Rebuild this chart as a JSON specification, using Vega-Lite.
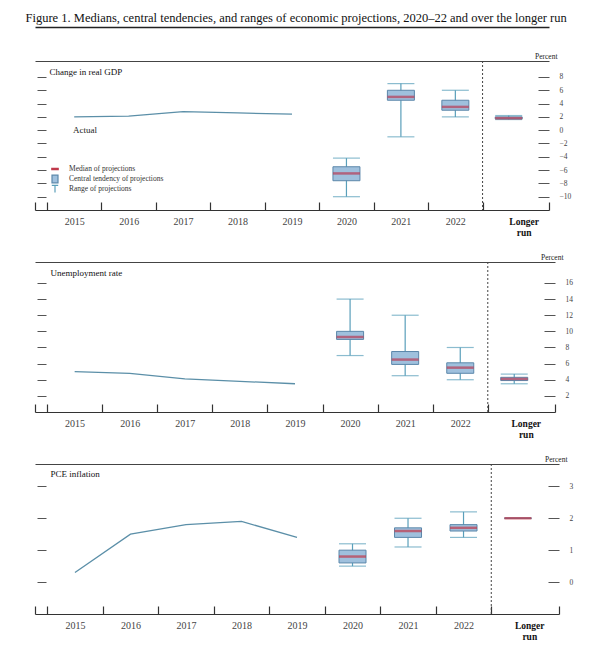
{
  "$schema": "https://vega.github.io/schema/vega-lite/v6.json",
  "background": "white",
  "padding": {"left": 25, "top": 11, "right": 5, "bottom": 5},
  "spacing": 16,
  "config": {
    "view": {"stroke": null},
    "font": "Liberation Serif",
    "axis": {"grid": false, "labelFont": "Liberation Serif", "titleFont": "Liberation Serif"},
    "legend": {"labelFont": "Liberation Serif"},
    "text": {"font": "Liberation Serif"}
  },
  "resolve": {"scale": {"fill": "independent", "stroke": "independent", "shape": "independent"}},
  "datasets": {
    "gdp_actual": [
      {"period": "2015", "pos": 2015.5, "value": 2.0},
      {"period": "2016", "pos": 2016.5, "value": 2.1},
      {"period": "2017", "pos": 2017.5, "value": 2.8},
      {"period": "2018", "pos": 2018.5, "value": 2.6},
      {"period": "2019", "pos": 2019.5, "value": 2.4}
    ],
    "gdp_proj": [
      {"period": "2020", "pos": 2020.5, "low": -10.0, "high": -4.2, "ctlow": -7.6, "cthigh": -5.5, "median": -6.5},
      {"period": "2021", "pos": 2021.5, "low": -1.0, "high": 7.0, "ctlow": 4.5, "cthigh": 6.0, "median": 5.0},
      {"period": "2022", "pos": 2022.5, "low": 2.0, "high": 6.0, "ctlow": 3.0, "cthigh": 4.5, "median": 3.5},
      {"period": "Longer run", "pos": 2023.48, "low": 1.6, "high": 2.2, "ctlow": 1.7, "cthigh": 2.0, "median": 1.8}
    ],
    "gdp_note": [{"pos": 2015.48, "value": 0, "label": "Actual"}],
    "ur_actual": [
      {"period": "2015", "pos": 2015.5, "value": 5.0},
      {"period": "2016", "pos": 2016.5, "value": 4.8},
      {"period": "2017", "pos": 2017.5, "value": 4.1},
      {"period": "2018", "pos": 2018.5, "value": 3.8},
      {"period": "2019", "pos": 2019.5, "value": 3.5}
    ],
    "ur_proj": [
      {"period": "2020", "pos": 2020.5, "low": 7.0, "high": 14.0, "ctlow": 9.0, "cthigh": 10.0, "median": 9.3},
      {"period": "2021", "pos": 2021.5, "low": 4.5, "high": 12.0, "ctlow": 5.9, "cthigh": 7.5, "median": 6.5},
      {"period": "2022", "pos": 2022.5, "low": 4.0, "high": 8.0, "ctlow": 4.8, "cthigh": 6.1, "median": 5.5},
      {"period": "Longer run", "pos": 2023.48, "low": 3.5, "high": 4.7, "ctlow": 3.9, "cthigh": 4.3, "median": 4.1}
    ],
    "pce_actual": [
      {"period": "2015", "pos": 2015.5, "value": 0.3},
      {"period": "2016", "pos": 2016.5, "value": 1.5},
      {"period": "2017", "pos": 2017.5, "value": 1.8},
      {"period": "2018", "pos": 2018.5, "value": 1.9},
      {"period": "2019", "pos": 2019.5, "value": 1.4}
    ],
    "pce_proj": [
      {"period": "2020", "pos": 2020.5, "low": 0.5, "high": 1.2, "ctlow": 0.6, "cthigh": 1.0, "median": 0.8},
      {"period": "2021", "pos": 2021.5, "low": 1.1, "high": 2.0, "ctlow": 1.4, "cthigh": 1.7, "median": 1.6},
      {"period": "2022", "pos": 2022.5, "low": 1.4, "high": 2.2, "ctlow": 1.6, "cthigh": 1.8, "median": 1.7},
      {"period": "Longer run", "pos": 2023.48, "low": 2.0, "high": 2.0, "ctlow": 2.0, "cthigh": 2.0, "median": 2.0}
    ],
    "divider": [{"at": 2023}]
  },
  "vconcat": [
    {
      "width": 514,
      "height": 149,
      "resolve": {"axis": {"x": "independent", "y": "independent"}},
      "layer": [
        {
          "data": {"name": "gdp_actual"},
          "mark": {"type": "line", "color": "#5b8fa8", "strokeWidth": 1.3},
          "encoding": {
            "x": {"field": "pos", "type": "quantitative",
              "scale": {"domain": [2014.78, 2024.22], "nice": false, "zero": false, "padding": 0},
              "axis": {"orient": "bottom", "values": [2014.78, 2015, 2016, 2017, 2018, 2019, 2020, 2021, 2022, 2023, 2024.22],
                "domain": true, "domainColor": "#333", "domainWidth": 1.2,
                "ticks": true, "tickSize": -8, "tickColor": "#333", "tickWidth": 1.2,
                "labelPadding": 14,
                "labelOffset": {"condition": {"test": "datum.value == 2023", "value": 41}, "value": 27.2},
                "labelExpr": "datum.value == 2023 ? ['Longer','run'] : (datum.value >= 2015 && datum.value <= 2022 ? '' + datum.value : '')",
                "labelFontWeight": {"condition": {"test": "datum.value == 2023", "value": "bold"}, "value": "normal"},
                "labelFontSize": {"condition": {"test": "datum.value == 2023", "value": 9.5}, "value": 10},
                "labelColor": {"condition": {"test": "datum.value == 2023", "value": "#111"}, "value": "#444"},
                "labelOverlap": false, "labelBound": false, "labelFlush": false,
                "labelAlign": "center", "labelBaseline": "top", "labelLineHeight": 11,
                "title": null, "grid": false}},
            "y": {"field": "value", "type": "quantitative",
              "scale": {"domain": [-12, 10.4], "nice": false, "zero": false, "padding": 0},
              "axis": {"orient": "left", "values": [8, 6, 4, 2, 0, -2, -4, -6, -8, -10],
                "domain": false, "labels": false, "ticks": true, "tickSize": -9, "offset": -2,
                "tickColor": "#555", "tickWidth": 1,
                "title": "Change in real GDP", "titleAngle": 0, "titleAlign": "left", "titleBaseline": "alphabetic",
                "titleX": 12, "titleY": 13, "titleFontSize": 9, "titleFontWeight": "normal", "titleColor": "#111", "grid": false}}
          }
        },
        {
          "data": {"name": "gdp_proj"},
          "encoding": {
            "x": {"field": "pos", "type": "quantitative",
              "scale": {"domain": [2014.78, 2024.22], "nice": false, "zero": false, "padding": 0},
              "axis": {"orient": "top", "domain": true, "domainColor": "#444", "domainWidth": 1.2, "ticks": false, "labels": false, "title": null, "grid": false}}
          },
          "layer": [
            {
              "mark": {"type": "rule", "color": "#5a9fba", "strokeWidth": 1.2},
              "encoding": {
                "y": {"field": "low", "type": "quantitative",
                  "scale": {"domain": [-12, 10.4], "nice": false, "zero": false, "padding": 0},
                  "axis": {"orient": "right", "values": [8, 6, 4, 2, 0, -2, -4, -6, -8, -10], "domain": false, "ticks": true, "tickSize": -11, "tickColor": "#555", "tickWidth": 1, "labelPadding": 21, "labelFontSize": 7.5, "labelColor": "#444", "labelOverlap": false, "labelBound": false, "labelFlush": false, "title": "Percent", "titleAngle": 0, "titleAlign": "right", "titleBaseline": "alphabetic", "titleX": 8, "titleY": -3, "titleFontSize": 7.5, "titleFontWeight": "normal", "titleColor": "#222", "grid": false}},
                "y2": {"field": "high"}
              }
            },
            {
              "mark": {"type": "tick", "orient": "horizontal", "size": 27, "thickness": 1.2, "color": "#5a9fba"},
              "encoding": {
                "y": {"field": "low", "type": "quantitative",
                  "scale": {"domain": [-12, 10.4], "nice": false, "zero": false, "padding": 0},
                  "axis": {"orient": "right", "values": [8, 6, 4, 2, 0, -2, -4, -6, -8, -10], "domain": false, "ticks": true, "tickSize": -11, "tickColor": "#555", "tickWidth": 1, "labelPadding": 21, "labelFontSize": 7.5, "labelColor": "#444", "labelOverlap": false, "labelBound": false, "labelFlush": false, "title": "Percent", "titleAngle": 0, "titleAlign": "right", "titleBaseline": "alphabetic", "titleX": 8, "titleY": -3, "titleFontSize": 7.5, "titleFontWeight": "normal", "titleColor": "#222", "grid": false}}
              }
            },
            {
              "mark": {"type": "tick", "orient": "horizontal", "size": 27, "thickness": 1.2, "color": "#5a9fba"},
              "encoding": {
                "y": {"field": "high", "type": "quantitative",
                  "scale": {"domain": [-12, 10.4], "nice": false, "zero": false, "padding": 0},
                  "axis": {"orient": "right", "values": [8, 6, 4, 2, 0, -2, -4, -6, -8, -10], "domain": false, "ticks": true, "tickSize": -11, "tickColor": "#555", "tickWidth": 1, "labelPadding": 21, "labelFontSize": 7.5, "labelColor": "#444", "labelOverlap": false, "labelBound": false, "labelFlush": false, "title": "Percent", "titleAngle": 0, "titleAlign": "right", "titleBaseline": "alphabetic", "titleX": 8, "titleY": -3, "titleFontSize": 7.5, "titleFontWeight": "normal", "titleColor": "#222", "grid": false}}
              }
            },
            {
              "mark": {"type": "bar", "width": 27, "fill": "#9fc0dd", "stroke": "#5b87aa", "strokeWidth": 1},
              "encoding": {
                "y": {"field": "ctlow", "type": "quantitative",
                  "scale": {"domain": [-12, 10.4], "nice": false, "zero": false, "padding": 0},
                  "axis": {"orient": "right", "values": [8, 6, 4, 2, 0, -2, -4, -6, -8, -10], "domain": false, "ticks": true, "tickSize": -11, "tickColor": "#555", "tickWidth": 1, "labelPadding": 21, "labelFontSize": 7.5, "labelColor": "#444", "labelOverlap": false, "labelBound": false, "labelFlush": false, "title": "Percent", "titleAngle": 0, "titleAlign": "right", "titleBaseline": "alphabetic", "titleX": 8, "titleY": -3, "titleFontSize": 7.5, "titleFontWeight": "normal", "titleColor": "#222", "grid": false}},
                "y2": {"field": "cthigh"}
              }
            },
            {
              "mark": {"type": "tick", "orient": "horizontal", "size": 27, "thickness": 2.5, "color": "#b83c55"},
              "encoding": {
                "y": {"field": "median", "type": "quantitative",
                  "scale": {"domain": [-12, 10.4], "nice": false, "zero": false, "padding": 0},
                  "axis": {"orient": "right", "values": [8, 6, 4, 2, 0, -2, -4, -6, -8, -10], "domain": false, "ticks": true, "tickSize": -11, "tickColor": "#555", "tickWidth": 1, "labelPadding": 21, "labelFontSize": 7.5, "labelColor": "#444", "labelOverlap": false, "labelBound": false, "labelFlush": false, "title": "Percent", "titleAngle": 0, "titleAlign": "right", "titleBaseline": "alphabetic", "titleX": 8, "titleY": -3, "titleFontSize": 7.5, "titleFontWeight": "normal", "titleColor": "#222", "grid": false}}
              }
            }
          ]
        },
        {
          "data": {"name": "gdp_note"},
          "mark": {"type": "text", "align": "left", "baseline": "middle", "fontSize": 9, "color": "#222"},
          "encoding": {
            "x": {"field": "pos", "type": "quantitative", "axis": null},
            "y": {"field": "value", "type": "quantitative", "axis": null},
            "text": {"field": "label"}
          }
        },
        {
          "data": {"values": []},
          "mark": {"type": "point", "filled": true, "opacity": 1},
          "encoding": {
            "shape": {"field": "comp", "type": "nominal",
              "scale": {"domain": ["Median of projections", "Central tendency of projections", "Range of projections"],
                "range": ["M-0.8,-0.18H0.8V0.18H-0.8Z", "M-0.75,-0.95H0.75V0.95H-0.75Z", "M-0.8,-0.9H0.8M0,-0.9V0.9"]},
              "legend": {"orient": "none", "legendX": 15, "legendY": 103, "title": null, "symbolSize": 64, "symbolStrokeWidth": 1.2,
                "labelFontSize": 7.5, "labelColor": "#333", "labelOffset": 9, "rowPadding": 0, "clipHeight": 10, "padding": 0, "labelLimit": 300}},
            "fill": {"field": "comp", "type": "nominal",
              "scale": {"domain": ["Median of projections", "Central tendency of projections", "Range of projections"],
                "range": ["#c0394b", "#9fc0dd", "transparent"]},
              "legend": {"orient": "none", "legendX": 15, "legendY": 103, "title": null, "symbolSize": 64, "symbolStrokeWidth": 1.2,
                "labelFontSize": 7.5, "labelColor": "#333", "labelOffset": 9, "rowPadding": 0, "clipHeight": 10, "padding": 0, "labelLimit": 300}},
            "stroke": {"field": "comp", "type": "nominal",
              "scale": {"domain": ["Median of projections", "Central tendency of projections", "Range of projections"],
                "range": ["#c0394b", "#5b87aa", "#5a9fba"]},
              "legend": {"orient": "none", "legendX": 15, "legendY": 103, "title": null, "symbolSize": 64, "symbolStrokeWidth": 1.2,
                "labelFontSize": 7.5, "labelColor": "#333", "labelOffset": 9, "rowPadding": 0, "clipHeight": 10, "padding": 0, "labelLimit": 300}}
          }
        },
        {
          "data": {"name": "divider"},
          "mark": {"type": "rule", "color": "#444", "strokeDash": [2, 2], "strokeWidth": 1},
          "encoding": {
            "x": {"field": "at", "type": "quantitative",
              "axis": {"orient": "top", "offset": 34, "domain": true, "domainColor": "#222", "domainWidth": 1.3,
                "ticks": false, "labels": false, "grid": false,
                "title": "Figure 1. Medians, central tendencies, and ranges of economic projections, 2020–22 and over the longer run",
                "titleX": -10, "titleY": -6, "titleAlign": "left", "titleBaseline": "alphabetic",
                "titleFontSize": 12.5, "titleFontWeight": "normal", "titleColor": "#111"}}
          }
        }
      ]
    },
    {
      "width": 520,
      "height": 150,
      "resolve": {"axis": {"x": "independent", "y": "independent"}},
      "layer": [
        {
          "data": {"name": "ur_actual"},
          "mark": {"type": "line", "color": "#5b8fa8", "strokeWidth": 1.3},
          "encoding": {
            "x": {"field": "pos", "type": "quantitative",
              "scale": {"domain": [2014.78, 2024.22], "nice": false, "zero": false, "padding": 0},
              "axis": {"orient": "bottom", "values": [2014.78, 2015, 2016, 2017, 2018, 2019, 2020, 2021, 2022, 2023, 2024.22],
                "domain": true, "domainColor": "#333", "domainWidth": 1.2,
                "ticks": true, "tickSize": -8, "tickColor": "#333", "tickWidth": 1.2,
                "labelPadding": 14,
                "labelOffset": {"condition": {"test": "datum.value == 2023", "value": 38}, "value": 27.5},
                "labelExpr": "datum.value == 2023 ? ['Longer','run'] : (datum.value >= 2015 && datum.value <= 2022 ? '' + datum.value : '')",
                "labelFontWeight": {"condition": {"test": "datum.value == 2023", "value": "bold"}, "value": "normal"},
                "labelFontSize": {"condition": {"test": "datum.value == 2023", "value": 9.5}, "value": 10},
                "labelColor": {"condition": {"test": "datum.value == 2023", "value": "#111"}, "value": "#444"},
                "labelOverlap": false, "labelBound": false, "labelFlush": false,
                "labelAlign": "center", "labelBaseline": "top", "labelLineHeight": 11,
                "title": null, "grid": false}},
            "y": {"field": "value", "type": "quantitative",
              "scale": {"domain": [0, 18.6], "nice": false, "zero": false, "padding": 0},
              "axis": {"orient": "left", "values": [16, 14, 12, 10, 8, 6, 4, 2],
                "domain": false, "labels": false, "ticks": true, "tickSize": -9, "offset": -2,
                "tickColor": "#555", "tickWidth": 1,
                "title": "Unemployment rate", "titleAngle": 0, "titleAlign": "left", "titleBaseline": "alphabetic",
                "titleX": 13, "titleY": 13, "titleFontSize": 9, "titleFontWeight": "normal", "titleColor": "#111", "grid": false}}
          }
        },
        {
          "data": {"name": "ur_proj"},
          "encoding": {
            "x": {"field": "pos", "type": "quantitative",
              "scale": {"domain": [2014.78, 2024.22], "nice": false, "zero": false, "padding": 0},
              "axis": {"orient": "top", "domain": true, "domainColor": "#444", "domainWidth": 1.2, "ticks": false, "labels": false, "title": null, "grid": false}}
          },
          "layer": [
            {
              "mark": {"type": "rule", "color": "#5a9fba", "strokeWidth": 1.2},
              "encoding": {
                "y": {"field": "low", "type": "quantitative",
                  "scale": {"domain": [0, 18.6], "nice": false, "zero": false, "padding": 0},
                  "axis": {"orient": "right", "values": [16, 14, 12, 10, 8, 6, 4, 2], "domain": false, "ticks": true, "tickSize": -11, "tickColor": "#555", "tickWidth": 1, "labelPadding": 21, "labelFontSize": 7.5, "labelColor": "#444", "labelOverlap": false, "labelBound": false, "labelFlush": false, "title": "Percent", "titleAngle": 0, "titleAlign": "right", "titleBaseline": "alphabetic", "titleX": 8, "titleY": -3, "titleFontSize": 7.5, "titleFontWeight": "normal", "titleColor": "#222", "grid": false}},
                "y2": {"field": "high"}
              }
            },
            {
              "mark": {"type": "tick", "orient": "horizontal", "size": 27, "thickness": 1.2, "color": "#5a9fba"},
              "encoding": {
                "y": {"field": "low", "type": "quantitative",
                  "scale": {"domain": [0, 18.6], "nice": false, "zero": false, "padding": 0},
                  "axis": {"orient": "right", "values": [16, 14, 12, 10, 8, 6, 4, 2], "domain": false, "ticks": true, "tickSize": -11, "tickColor": "#555", "tickWidth": 1, "labelPadding": 21, "labelFontSize": 7.5, "labelColor": "#444", "labelOverlap": false, "labelBound": false, "labelFlush": false, "title": "Percent", "titleAngle": 0, "titleAlign": "right", "titleBaseline": "alphabetic", "titleX": 8, "titleY": -3, "titleFontSize": 7.5, "titleFontWeight": "normal", "titleColor": "#222", "grid": false}}
              }
            },
            {
              "mark": {"type": "tick", "orient": "horizontal", "size": 27, "thickness": 1.2, "color": "#5a9fba"},
              "encoding": {
                "y": {"field": "high", "type": "quantitative",
                  "scale": {"domain": [0, 18.6], "nice": false, "zero": false, "padding": 0},
                  "axis": {"orient": "right", "values": [16, 14, 12, 10, 8, 6, 4, 2], "domain": false, "ticks": true, "tickSize": -11, "tickColor": "#555", "tickWidth": 1, "labelPadding": 21, "labelFontSize": 7.5, "labelColor": "#444", "labelOverlap": false, "labelBound": false, "labelFlush": false, "title": "Percent", "titleAngle": 0, "titleAlign": "right", "titleBaseline": "alphabetic", "titleX": 8, "titleY": -3, "titleFontSize": 7.5, "titleFontWeight": "normal", "titleColor": "#222", "grid": false}}
              }
            },
            {
              "mark": {"type": "bar", "width": 27, "fill": "#9fc0dd", "stroke": "#5b87aa", "strokeWidth": 1},
              "encoding": {
                "y": {"field": "ctlow", "type": "quantitative",
                  "scale": {"domain": [0, 18.6], "nice": false, "zero": false, "padding": 0},
                  "axis": {"orient": "right", "values": [16, 14, 12, 10, 8, 6, 4, 2], "domain": false, "ticks": true, "tickSize": -11, "tickColor": "#555", "tickWidth": 1, "labelPadding": 21, "labelFontSize": 7.5, "labelColor": "#444", "labelOverlap": false, "labelBound": false, "labelFlush": false, "title": "Percent", "titleAngle": 0, "titleAlign": "right", "titleBaseline": "alphabetic", "titleX": 8, "titleY": -3, "titleFontSize": 7.5, "titleFontWeight": "normal", "titleColor": "#222", "grid": false}},
                "y2": {"field": "cthigh"}
              }
            },
            {
              "mark": {"type": "tick", "orient": "horizontal", "size": 27, "thickness": 2.5, "color": "#b83c55"},
              "encoding": {
                "y": {"field": "median", "type": "quantitative",
                  "scale": {"domain": [0, 18.6], "nice": false, "zero": false, "padding": 0},
                  "axis": {"orient": "right", "values": [16, 14, 12, 10, 8, 6, 4, 2], "domain": false, "ticks": true, "tickSize": -11, "tickColor": "#555", "tickWidth": 1, "labelPadding": 21, "labelFontSize": 7.5, "labelColor": "#444", "labelOverlap": false, "labelBound": false, "labelFlush": false, "title": "Percent", "titleAngle": 0, "titleAlign": "right", "titleBaseline": "alphabetic", "titleX": 8, "titleY": -3, "titleFontSize": 7.5, "titleFontWeight": "normal", "titleColor": "#222", "grid": false}}
              }
            }
          ]
        },
        {
          "data": {"name": "divider"},
          "mark": {"type": "rule", "color": "#444", "strokeDash": [2, 2], "strokeWidth": 1},
          "encoding": {
            "x": {"field": "at", "type": "quantitative", "axis": null}
          }
        }
      ]
    },
    {
      "width": 524,
      "height": 150,
      "resolve": {"axis": {"x": "independent", "y": "independent"}},
      "layer": [
        {
          "data": {"name": "pce_actual"},
          "mark": {"type": "line", "color": "#5b8fa8", "strokeWidth": 1.3},
          "encoding": {
            "x": {"field": "pos", "type": "quantitative",
              "scale": {"domain": [2014.78, 2024.22], "nice": false, "zero": false, "padding": 0},
              "axis": {"orient": "bottom", "values": [2014.78, 2015, 2016, 2017, 2018, 2019, 2020, 2021, 2022, 2023, 2024.22],
                "domain": true, "domainColor": "#333", "domainWidth": 1.2,
                "ticks": true, "tickSize": -8, "tickColor": "#333", "tickWidth": 1.2,
                "labelPadding": 14,
                "labelOffset": {"condition": {"test": "datum.value == 2023", "value": 38}, "value": 27.75},
                "labelExpr": "datum.value == 2023 ? ['Longer','run'] : (datum.value >= 2015 && datum.value <= 2022 ? '' + datum.value : '')",
                "labelFontWeight": {"condition": {"test": "datum.value == 2023", "value": "bold"}, "value": "normal"},
                "labelFontSize": {"condition": {"test": "datum.value == 2023", "value": 9.5}, "value": 10},
                "labelColor": {"condition": {"test": "datum.value == 2023", "value": "#111"}, "value": "#444"},
                "labelOverlap": false, "labelBound": false, "labelFlush": false,
                "labelAlign": "center", "labelBaseline": "top", "labelLineHeight": 11,
                "title": null, "grid": false}},
            "y": {"field": "value", "type": "quantitative",
              "scale": {"domain": [-1, 3.7], "nice": false, "zero": false, "padding": 0},
              "axis": {"orient": "left", "values": [3, 2, 1, 0],
                "domain": false, "labels": false, "ticks": true, "tickSize": -9, "offset": -2,
                "tickColor": "#555", "tickWidth": 1,
                "title": "PCE inflation", "titleAngle": 0, "titleAlign": "left", "titleBaseline": "alphabetic",
                "titleX": 13, "titleY": 12, "titleFontSize": 9, "titleFontWeight": "normal", "titleColor": "#111", "grid": false}}
          }
        },
        {
          "data": {"name": "pce_proj"},
          "encoding": {
            "x": {"field": "pos", "type": "quantitative",
              "scale": {"domain": [2014.78, 2024.22], "nice": false, "zero": false, "padding": 0},
              "axis": {"orient": "top", "domain": true, "domainColor": "#444", "domainWidth": 1.2, "ticks": false, "labels": false, "title": null, "grid": false}}
          },
          "layer": [
            {
              "mark": {"type": "rule", "color": "#5a9fba", "strokeWidth": 1.2},
              "encoding": {
                "y": {"field": "low", "type": "quantitative",
                  "scale": {"domain": [-1, 3.7], "nice": false, "zero": false, "padding": 0},
                  "axis": {"orient": "right", "values": [3, 2, 1, 0], "domain": false, "ticks": true, "tickSize": -11, "tickColor": "#555", "tickWidth": 1, "labelPadding": 21, "labelFontSize": 7.5, "labelColor": "#444", "labelOverlap": false, "labelBound": false, "labelFlush": false, "title": "Percent", "titleAngle": 0, "titleAlign": "right", "titleBaseline": "alphabetic", "titleX": 8, "titleY": -3, "titleFontSize": 7.5, "titleFontWeight": "normal", "titleColor": "#222", "grid": false}},
                "y2": {"field": "high"}
              }
            },
            {
              "mark": {"type": "tick", "orient": "horizontal", "size": 27, "thickness": 1.2, "color": "#5a9fba"},
              "encoding": {
                "y": {"field": "low", "type": "quantitative",
                  "scale": {"domain": [-1, 3.7], "nice": false, "zero": false, "padding": 0},
                  "axis": {"orient": "right", "values": [3, 2, 1, 0], "domain": false, "ticks": true, "tickSize": -11, "tickColor": "#555", "tickWidth": 1, "labelPadding": 21, "labelFontSize": 7.5, "labelColor": "#444", "labelOverlap": false, "labelBound": false, "labelFlush": false, "title": "Percent", "titleAngle": 0, "titleAlign": "right", "titleBaseline": "alphabetic", "titleX": 8, "titleY": -3, "titleFontSize": 7.5, "titleFontWeight": "normal", "titleColor": "#222", "grid": false}}
              }
            },
            {
              "mark": {"type": "tick", "orient": "horizontal", "size": 27, "thickness": 1.2, "color": "#5a9fba"},
              "encoding": {
                "y": {"field": "high", "type": "quantitative",
                  "scale": {"domain": [-1, 3.7], "nice": false, "zero": false, "padding": 0},
                  "axis": {"orient": "right", "values": [3, 2, 1, 0], "domain": false, "ticks": true, "tickSize": -11, "tickColor": "#555", "tickWidth": 1, "labelPadding": 21, "labelFontSize": 7.5, "labelColor": "#444", "labelOverlap": false, "labelBound": false, "labelFlush": false, "title": "Percent", "titleAngle": 0, "titleAlign": "right", "titleBaseline": "alphabetic", "titleX": 8, "titleY": -3, "titleFontSize": 7.5, "titleFontWeight": "normal", "titleColor": "#222", "grid": false}}
              }
            },
            {
              "mark": {"type": "bar", "width": 27, "fill": "#9fc0dd", "stroke": "#5b87aa", "strokeWidth": 1},
              "encoding": {
                "y": {"field": "ctlow", "type": "quantitative",
                  "scale": {"domain": [-1, 3.7], "nice": false, "zero": false, "padding": 0},
                  "axis": {"orient": "right", "values": [3, 2, 1, 0], "domain": false, "ticks": true, "tickSize": -11, "tickColor": "#555", "tickWidth": 1, "labelPadding": 21, "labelFontSize": 7.5, "labelColor": "#444", "labelOverlap": false, "labelBound": false, "labelFlush": false, "title": "Percent", "titleAngle": 0, "titleAlign": "right", "titleBaseline": "alphabetic", "titleX": 8, "titleY": -3, "titleFontSize": 7.5, "titleFontWeight": "normal", "titleColor": "#222", "grid": false}},
                "y2": {"field": "cthigh"}
              }
            },
            {
              "mark": {"type": "tick", "orient": "horizontal", "size": 27, "thickness": 2.5, "color": "#c0394b"},
              "encoding": {
                "y": {"field": "median", "type": "quantitative",
                  "scale": {"domain": [-1, 3.7], "nice": false, "zero": false, "padding": 0},
                  "axis": {"orient": "right", "values": [3, 2, 1, 0], "domain": false, "ticks": true, "tickSize": -11, "tickColor": "#555", "tickWidth": 1, "labelPadding": 21, "labelFontSize": 7.5, "labelColor": "#444", "labelOverlap": false, "labelBound": false, "labelFlush": false, "title": "Percent", "titleAngle": 0, "titleAlign": "right", "titleBaseline": "alphabetic", "titleX": 8, "titleY": -3, "titleFontSize": 7.5, "titleFontWeight": "normal", "titleColor": "#222", "grid": false}}
              }
            }
          ]
        },
        {
          "data": {"name": "divider"},
          "mark": {"type": "rule", "color": "#444", "strokeDash": [2, 2], "strokeWidth": 1},
          "encoding": {
            "x": {"field": "at", "type": "quantitative", "axis": null}
          }
        }
      ]
    }
  ]
}
